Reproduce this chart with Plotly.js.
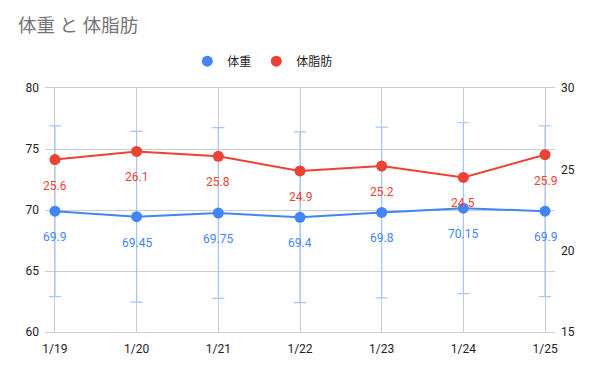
<!DOCTYPE html>
<html>
<head>
<meta charset="utf-8">
<script src="https://cdn.plot.ly/plotly-3.0.1.min.js"></script>
<style>html,body{margin:0;padding:0;background:#fff}#chart{width:600px;height:371px}</style>
</head>
<body>
<div id="chart"></div>
<script>
const categories = ["1/19", "1/20", "1/21", "1/22", "1/23", "1/24", "1/25"];
const weight = [69.9, 69.45, 69.75, 69.4, 69.8, 70.15, 69.9];
const bodyFat = [25.6, 26.1, 25.8, 24.9, 25.2, 24.5, 25.9];
const weightError = 7;
const weightName = "体重";
const fatName = "体脂肪";

const BLUE = "#4285F4", RED = "#EA4335";
const FONT = "Roboto, 'Noto Sans CJK JP', sans-serif";

const traces = [
  {
    x: categories, y: weight, name: weightName, type: "scatter", mode: "lines+markers",
    line: {color: BLUE, width: 2}, marker: {color: BLUE, size: 11},
    error_y: {type: "constant", value: weightError, color: "#a8c5f7", thickness: 1.2, width: 6},
    showlegend: false, yaxis: "y", hoverinfo: "skip"
  },
  {
    x: categories, y: bodyFat, name: fatName, type: "scatter", mode: "lines+markers",
    line: {color: RED, width: 2}, marker: {color: RED, size: 11},
    showlegend: false, yaxis: "y2", hoverinfo: "skip"
  },
  {x: [null], y: [null], name: weightName, mode: "markers", marker: {color: BLUE, size: 11}, type: "scatter"},
  {x: [null], y: [null], name: fatName, mode: "markers", marker: {color: RED, size: 11}, type: "scatter"}
];

const annotations = [];
categories.forEach((c, i) => {
  annotations.push({x: c, y: weight[i], xref: "x", yref: "y", text: String(weight[i]), showarrow: false,
    yshift: -26, yanchor: "middle", font: {family: FONT, size: 12, color: BLUE}});
  annotations.push({x: c, y: bodyFat[i], xref: "x", yref: "y2", text: String(bodyFat[i]), showarrow: false,
    yshift: -26, yanchor: "middle", font: {family: FONT, size: 12, color: RED}});
});

const layout = {
  width: 600, height: 371,
  margin: {l: 45, r: 45, t: 88, b: 39, pad: 0},
  paper_bgcolor: "#fff", plot_bgcolor: "#fff",
  font: {family: FONT, size: 12, color: "#222"},
  title: {text: "体重 と 体脂肪", x: 0, xref: "container", xanchor: "left", y: 1, yref: "container", yanchor: "top",
    pad: {t: 19, l: 18}, font: {family: FONT, size: 18.5, color: "#757575"}},
  showlegend: true,
  legend: {orientation: "h", x: 0.279, xanchor: "left", y: 1.11, yanchor: "middle",
    font: {family: FONT, size: 12, color: "#222"}, itemwidth: 30, bgcolor: "rgba(0,0,0,0)"},
  xaxis: {type: "category", range: [-0.122, 6.122], showgrid: true, gridcolor: "#cccccc",
    showline: true, linecolor: "#cccccc", linewidth: 1, mirror: true, zeroline: false, ticks: "",
    ticklabelstandoff: 6, tickfont: {family: FONT, size: 12, color: "#222"}, fixedrange: true},
  yaxis: {range: [60, 80], dtick: 5, tick0: 60, showgrid: true, gridcolor: "#cccccc", zeroline: false,
    ticks: "", ticklabelstandoff: 5, tickfont: {family: FONT, size: 12, color: "#222"}, showline: false},
  yaxis2: {range: [15, 30], dtick: 5, tick0: 15, overlaying: "y", side: "right", showgrid: false, zeroline: false,
    ticks: "", ticklabelstandoff: 5, tickfont: {family: FONT, size: 12, color: "#222"}, showline: false},
  annotations: annotations
};

Plotly.newPlot("chart", traces, layout, {displayModeBar: false, staticPlot: true});
</script>
</body>
</html>
